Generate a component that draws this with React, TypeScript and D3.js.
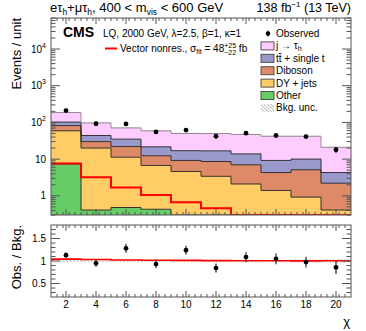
import React from 'react';
import * as d3 from 'd3';

// bin edges in chi and the stacked backgrounds (events / unit)
const chiEdges = [1, 3, 5, 7, 9, 11, 13, 15, 17, 19, 21];
const other = [7.4, 0.41, 0.48, 0.43, 0, 0, 0, 0, 0, 0];
const dyJets = [51.6, 19.6, 10.8, 6.3, 4.6, 3.4, 2.1, 1.4, 0.92, 0.41];
const diboson = [23, 10, 10.7, 5.6, 4.6, 5.2, 4.9, 2.9, 4.2, 1.8];
const ttSingleT = [20, 14, 13, 9.3, 7.8, 8.2, 6.9, 4.9, 4.9, 2.1];
const jetFakes = [84, 53, 36, 37.4, 33, 33, 33, 32.8, 32, 16.7];
const bkgUnc = [0.025, 0.03, 0.03, 0.03, 0.03, 0.03, 0.03, 0.03, 0.035, 0.04];

const signal = [7.6, 3.2, 1.68, 1.06, 0.67, 0.46, 0.28, 0.2, 0.14, 0.1];
const observed = [210, 92, 91, 55, 62, 42, 51, 44, 41, 18];
const observedErr = [11, 8, 7, 5.5, 5, 5, 5.2, 5, 5, 3.2];
const ratioErr = [0.06, 0.08, 0.1, 0.09, 0.1, 0.1, 0.11, 0.12, 0.12, 0.15];

const xTickLabels = [2, 4, 6, 8, 10, 12, 14, 16, 18, 20];
const yTickLabels = [1, 10, 100, 1000, 10000];
const ratioTickLabels = [0.5, 1, 1.5];

const layers = [
	{ key: 'other', name: 'Other', color: '#66cc66', values: other },
	{ key: 'dy', name: 'DY + jets', color: '#ffcc66', values: dyJets },
	{ key: 'vv', name: 'Diboson', color: '#de8a68', values: diboson },
	{ key: 'tt', name: 'tt\u0304 + single t', color: '#9999cc', values: ttSingleT },
	{ key: 'jf', name: 'j \u2192 \u03c4', color: '#ffccff', values: jetFakes }
];

const FONT = 'Liberation Sans, Arial, Helvetica, sans-serif';
const FRAME = '#555';

export default function App() {
	const x = d3.scaleLinear().domain([1, 21]).range([51, 351]);
	const y = d3.scaleLog().domain([0.3, 7e4]).range([215, 18]).clamp(true);
	const yr = d3.scaleLinear().domain([0.2, 1.8]).range([297, 225]);

	const rows = jetFakes.map((_, i) => {
		const r: any = { i };
		layers.forEach(l => (r[l.key] = l.values[i]));
		return r;
	});
	const stacked = d3.stack().keys(layers.map(l => l.key))(rows);
	const total = rows.map((_, i) => stacked[stacked.length - 1][i][1]);

	// two points per bin -> histogram steps
	const steps = (vals: number[]) =>
		vals.flatMap((v, i) => [[chiEdges[i], v], [chiEdges[i + 1], v]] as [number, number][]);
	const stepBand = (lo: number[], hi: number[]) =>
		lo.flatMap((v, i) => [
			{ x: chiEdges[i], lo: v, hi: hi[i] },
			{ x: chiEdges[i + 1], lo: v, hi: hi[i] }
		]);

	const area = d3
		.area<{ x: number; lo: number; hi: number }>()
		.x(d => x(d.x))
		.y0(d => y(Math.max(d.lo, 0.3)))
		.y1(d => y(Math.max(d.hi, 0.3)));
	const line = d3
		.line<[number, number]>()
		.x(d => x(d[0]))
		.y(d => y(Math.max(d[1], 0.3)));
	const rline = d3
		.line<[number, number]>()
		.x(d => x(d[0]))
		.y(d => yr(d[1]));
	const rarea = d3
		.area<{ x: number; lo: number; hi: number }>()
		.x(d => x(d.x))
		.y0(d => yr(d.lo))
		.y1(d => yr(d.hi));

	const centers = chiEdges.slice(0, -1).map((e, i) => (e + chiEdges[i + 1]) / 2);
	const ratio = observed.map((o, i) => o / total[i]);
	const sigRatio = signal.map((s, i) => (total[i] + s) / total[i]);

	const minorX = d3.range(1.4, 21, 0.4).filter(v => Math.abs(v / 2 - Math.round(v / 2)) > 0.01);
	const logTicks = y.ticks().filter(v => v >= 0.3 && v <= 7e4);
	const isMajor = (v: number) => Math.abs(Math.log10(v) - Math.round(Math.log10(v))) < 1e-6;
	const ratioMinor = d3.range(0.3, 1.8, 0.1).filter(v => Math.abs(v * 2 - Math.round(v * 2)) > 0.01);

	const xTicks = (top: number, bottom: number, major: number, minor: number, key: string) => (
		<g key={key} stroke={FRAME} strokeWidth={1}>
			{xTickLabels.map(v => (
				<g key={v}>
					<line x1={x(v)} x2={x(v)} y1={bottom} y2={bottom - major} />
					<line x1={x(v)} x2={x(v)} y1={top} y2={top + major} />
				</g>
			))}
			{minorX.map(v => (
				<g key={'m' + v}>
					<line x1={x(v)} x2={x(v)} y1={bottom} y2={bottom - minor} />
					<line x1={x(v)} x2={x(v)} y1={top} y2={top + minor} />
				</g>
			))}
		</g>
	);

	const legendRow = (i: number) => 33.5 + i * 12.4;
	const legendEntries = [...layers].reverse();

	return (
		<svg width={366} height={331} style={{ display: 'block', position: 'absolute', left: 0, top: 0 }} fontFamily={FONT}>
			<defs>
				<pattern id="hatch" width={2.5} height={2.5} patternUnits="userSpaceOnUse" patternTransform="rotate(-45)">
					<line x1={0} y1={0} x2={0} y2={2.5} stroke="#777" strokeWidth={0.9} />
				</pattern>
				<clipPath id="upper">
					<rect x={51} y={18} width={300} height={197} />
				</clipPath>
				<clipPath id="lower">
					<rect x={51} y={225} width={300} height={72} />
				</clipPath>
			</defs>
			<rect width={366} height={331} fill="#fff" />

			{/* header */}
			<text x={50} y={12} fontSize={13}>
				e{'\u03c4'}
				<tspan fontSize={8.5} dy={3}>h</tspan>
				<tspan dy={-3}>+{'\u03bc\u03c4'}</tspan>
				<tspan fontSize={8.5} dy={3}>h</tspan>
				<tspan dy={-3}>, 400 &lt; m</tspan>
				<tspan fontSize={8.5} dy={3}>vis</tspan>
				<tspan dy={-3}> &lt; 600 GeV</tspan>
			</text>
			<text x={351} y={12} fontSize={12.5} textAnchor="end">
				138 fb
				<tspan fontSize={8} dy={-5}>{'\u22121'}</tspan>
				<tspan dy={5}> (13 TeV)</tspan>
			</text>

			{/* upper panel */}
			<g clipPath="url(#upper)">
				{stacked.map((s, li) => (
					<path
						key={layers[li].key}
						d={area(stepBand(s.map(d => d[0]), s.map(d => d[1]))) || ''}
						fill={layers[li].color}
					/>
				))}
				{stacked.map((s, li) => (
					<path
						key={'l' + layers[li].key}
						d={line(steps(s.map(d => d[1]))) || ''}
						fill="none"
						stroke={li === stacked.length - 1 ? '#888' : '#222'}
						strokeWidth={0.9}
					/>
				))}
				<path
					d={area(stepBand(total.map((t, i) => t * (1 - bkgUnc[i])), total.map((t, i) => t * (1 + bkgUnc[i])))) || ''}
					fill="url(#hatch)"
				/>
				<path d={line(steps(signal)) || ''} fill="none" stroke="#ff0000" strokeWidth={2} />
				{centers.map((c, i) => (
					<g key={'o' + i}>
						<line x1={x(c)} x2={x(c)} y1={y(observed[i] - observedErr[i])} y2={y(observed[i] + observedErr[i])} stroke="#000" strokeWidth={1} />
						<circle cx={x(c)} cy={y(observed[i])} r={2.4} fill="#000" />
					</g>
				))}
			</g>
			<rect x={51} y={18} width={300} height={197} fill="none" stroke={FRAME} strokeWidth={1} />
			{xTicks(18, 215, 6, 3, 'ux')}
			<g stroke={FRAME} strokeWidth={1}>
				{logTicks.map(v => {
					const len = isMajor(v) ? 9 : 4.5;
					return (
						<g key={'ly' + v}>
							<line x1={51} x2={51 + len} y1={y(v)} y2={y(v)} />
							<line x1={351} x2={351 - len} y1={y(v)} y2={y(v)} />
						</g>
					);
				})}
			</g>
			<g fontSize={10} textAnchor="end">
				{yTickLabels.map(v => (
					<text key={'yl' + v} x={46} y={y(v) + 3.5}>
						{v < 100 ? String(v) : '10'}
						{v >= 100 && (
							<tspan fontSize={7} dy={-5}>
								{Math.round(Math.log10(v))}
							</tspan>
						)}
					</text>
				))}
			</g>
			<text transform="translate(21,18) rotate(-90)" fontSize={13} textAnchor="end">
				Events / unit
			</text>

			{/* in-plot labels */}
			<text x={63} y={37} fontSize={14} fontWeight="bold">CMS</text>
			<text x={103} y={37} fontSize={10}>
				LQ, 2000 GeV, {'\u03bb'}=2.5, {'\u03b2'}=1, {'\u03ba'}=1
			</text>
			<line x1={105} x2={117} y1={48.5} y2={48.5} stroke="#ff0000" strokeWidth={2} />
			<text x={120} y={52} fontSize={10}>
				Vector nonres., {'\u03c3'}
				<tspan fontSize={7} dy={2}>fit</tspan>
				<tspan dy={-2}> = 48</tspan>
				<tspan fontSize={7} dy={-4}>+25</tspan>
				<tspan fontSize={7} dx={-11.87} dy={7}>{'\u221222'}</tspan>
				<tspan dy={-3}> fb</tspan>
			</text>

			{/* legend */}
			<g fontSize={10}>
				<line x1={268} x2={268} y1={legendRow(0) - 3} y2={legendRow(0) + 3} stroke="#000" />
				<circle cx={268} cy={legendRow(0)} r={2.2} fill="#000" />
				<text x={276} y={legendRow(0) + 3.5}>Observed</text>
				{legendEntries.map((l, i) => (
					<g key={'lg' + l.key}>
						<rect x={261} y={legendRow(i + 1) - 4} width={13} height={8} fill={l.color} stroke="#444" strokeWidth={0.9} />
						<text x={276} y={legendRow(i + 1) + 3.5}>
							{l.name}
							{l.key === 'jf' && <tspan fontSize={7} dy={2}>h</tspan>}
						</text>
					</g>
				))}
				<rect x={261} y={legendRow(6) - 4} width={13} height={8} fill="url(#hatch)" />
				<text x={276} y={legendRow(6) + 3.5}>Bkg. unc.</text>
			</g>

			{/* ratio panel */}
			<g clipPath="url(#lower)">
				<path
					d={rarea(stepBand(bkgUnc.map(u => 1 - u), bkgUnc.map(u => 1 + u))) || ''}
					fill="url(#hatch)"
				/>
				<path d={rline(steps(sigRatio)) || ''} fill="none" stroke="#ff0000" strokeWidth={1.6} />
				{centers.map((c, i) => (
					<g key={'r' + i}>
						<line x1={x(c)} x2={x(c)} y1={yr(ratio[i] - ratioErr[i])} y2={yr(ratio[i] + ratioErr[i])} stroke="#000" strokeWidth={1} />
						<circle cx={x(c)} cy={yr(ratio[i])} r={2.4} fill="#000" />
					</g>
				))}
			</g>
			<rect x={51} y={225} width={300} height={72} fill="none" stroke={FRAME} strokeWidth={1} />
			{xTicks(225, 297, 6, 3, 'lx')}
			<g stroke={FRAME} strokeWidth={1}>
				{ratioTickLabels.map(v => (
					<g key={'ry' + v}>
						<line x1={51} x2={60} y1={yr(v)} y2={yr(v)} />
						<line x1={351} x2={342} y1={yr(v)} y2={yr(v)} />
					</g>
				))}
				{ratioMinor.map(v => (
					<g key={'rm' + v}>
						<line x1={51} x2={55.5} y1={yr(v)} y2={yr(v)} />
						<line x1={351} x2={346.5} y1={yr(v)} y2={yr(v)} />
					</g>
				))}
			</g>
			<g fontSize={10} textAnchor="end">
				{ratioTickLabels.map(v => (
					<text key={'rl' + v} x={46} y={yr(v) + 3.5}>
						{String(v)}
					</text>
				))}
			</g>
			<g fontSize={10} textAnchor="middle">
				{xTickLabels.map(v => (
					<text key={'xl' + v} x={x(v)} y={307.5}>
						{v}
					</text>
				))}
			</g>
			<text transform="translate(21,225) rotate(-90)" fontSize={13} textAnchor="end">
				Obs. / Bkg.
			</text>
			<text x={350} y={326} fontSize={13} textAnchor="end">
				{'\u03c7'}
			</text>
		</svg>
	);
}
